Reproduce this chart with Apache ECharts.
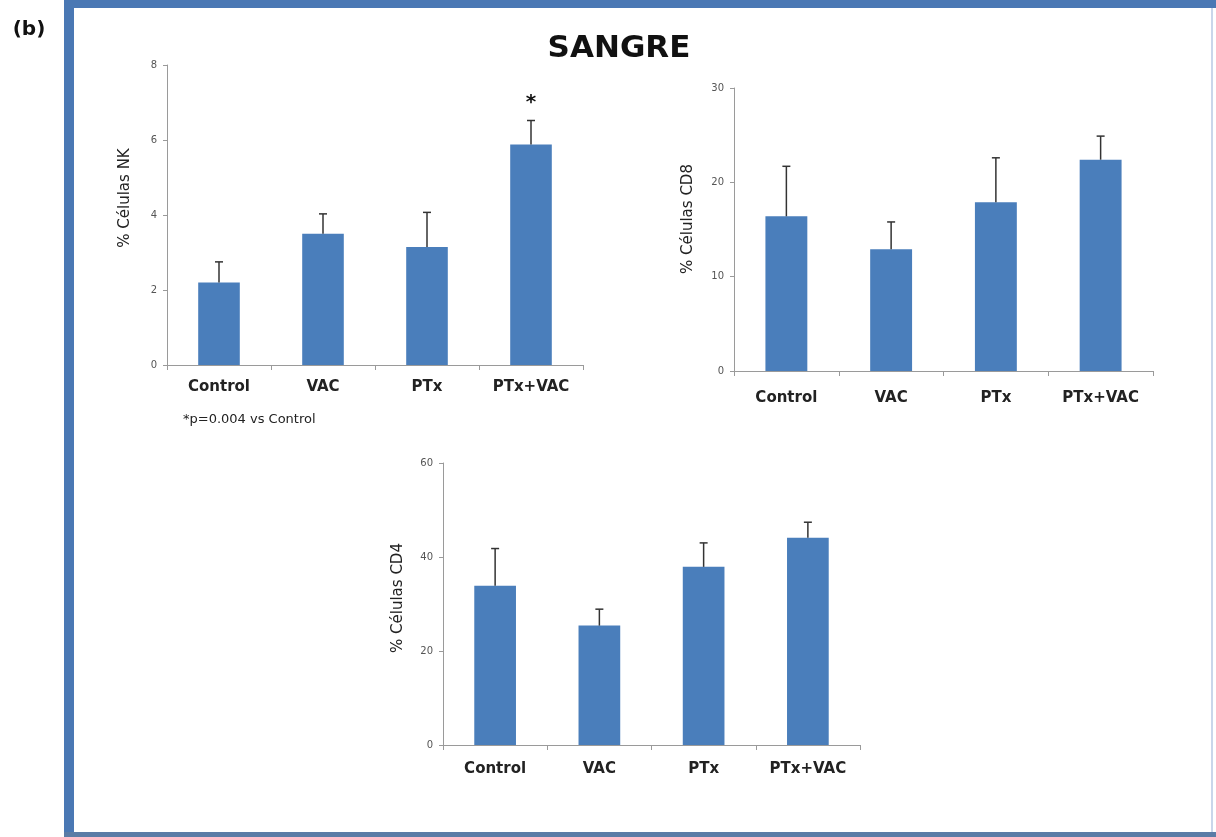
<!DOCTYPE html>
<html>
<head>
<meta charset="utf-8">
<title>SANGRE</title>
<script src="https://cdn.jsdelivr.net/npm/echarts@6/dist/echarts.min.js"></script>
<style>
  html, body { margin: 0; padding: 0; background: #ffffff; }
  #chart { width: 1216px; height: 837px; }
</style>
</head>
<body>
<div id="chart"></div>
<script>
// Groups shown in every panel
const categories = ['Control', 'VAC', 'PTx', 'PTx+VAC'];

// % NK cells in blood: mean and upper error
const nkMean = [2.2, 3.5, 3.15, 5.88];
const nkErr = [0.55, 0.53, 0.92, 0.64];
const nkMarks = ['', '', '', '*'];
const nkTicks = [0, 2, 4, 6, 8];

// % CD8 cells in blood
const cd8Mean = [16.4, 12.9, 17.9, 22.4];
const cd8Err = [5.3, 2.9, 4.7, 2.5];
const cd8Marks = ['', '', '', ''];
const cd8Ticks = [0, 10, 20, 30];

// % CD4 cells in blood
const cd4Mean = [33.9, 25.4, 37.9, 44.1];
const cd4Err = [7.9, 3.5, 5.1, 3.3];
const cd4Marks = ['', '', '', ''];
const cd4Ticks = [0, 20, 40, 60];

const FONT = '"DejaVu Sans", sans-serif';
const BAR = '#4a7ebb';
const FRAME = '#4a78b4';
const AXIS = '#9a9a9a';

// Panel layout: plotting area box, axis name, category label gap
const panels = [
  { mean: nkMean, err: nkErr, marks: nkMarks, ticks: nkTicks, name: '% Células NK',
    grid: { left: 167, top: 65, width: 416, height: 300 }, nameAt: [125, 198], labelMargin: 15 },
  { mean: cd8Mean, err: cd8Err, marks: cd8Marks, ticks: cd8Ticks, name: '% Células CD8',
    grid: { left: 734, top: 88, width: 419, height: 283 }, nameAt: [688, 219], labelMargin: 20 },
  { mean: cd4Mean, err: cd4Err, marks: cd4Marks, ticks: cd4Ticks, name: '% Células CD4',
    grid: { left: 443, top: 463, width: 417, height: 282 }, nameAt: [398, 598], labelMargin: 17 }
];

const grid = [], xAxis = [], yAxis = [], series = [], graphic = [];

panels.forEach((p, i) => {
  grid.push(Object.assign({ containLabel: false }, p.grid));
  xAxis.push({
    type: 'category', gridIndex: i, data: categories,
    axisLine: { lineStyle: { color: AXIS, width: 1 } },
    axisTick: { show: true, alignWithLabel: false, length: 5, lineStyle: { color: AXIS } },
    axisLabel: { color: '#222', fontFamily: FONT, fontSize: 15, fontWeight: 'bold', margin: p.labelMargin }
  });
  const step = p.ticks[1] - p.ticks[0];
  yAxis.push({
    type: 'value', gridIndex: i,
    min: p.ticks[0], max: p.ticks[p.ticks.length - 1], interval: step,
    axisLine: { show: true, lineStyle: { color: AXIS, width: 1 } },
    axisTick: { show: true, length: 4, lineStyle: { color: AXIS } },
    splitLine: { show: false },
    axisLabel: { color: '#555', fontFamily: FONT, fontSize: 10, margin: 10 }
  });
  series.push({
    type: 'bar', xAxisIndex: i, yAxisIndex: i, data: p.mean,
    barWidth: '40%', itemStyle: { color: BAR }, silent: true, z: 2
  });
  // Error bars (upper whisker with cap) and significance marks
  series.push({
    type: 'custom', xAxisIndex: i, yAxisIndex: i, z: 3, silent: true,
    data: p.mean.map((m, k) => [k, m, p.err[k]]),
    renderItem: function (params, api) {
      const k = api.value(0), m = api.value(1), e = api.value(2);
      const base = api.coord([k, m]);
      const top = api.coord([k, m + e]);
      const children = [
        { type: 'line', shape: { x1: base[0], y1: base[1], x2: top[0], y2: top[1] },
          style: { stroke: '#333333', lineWidth: 1.5 } },
        { type: 'line', shape: { x1: top[0] - 4, y1: top[1], x2: top[0] + 4, y2: top[1] },
          style: { stroke: '#333333', lineWidth: 1.5 } }
      ];
      const mark = p.marks[k];
      if (mark) {
        children.push({ type: 'text', x: top[0], y: top[1] - 18,
          style: { text: mark, fill: '#111', font: 'bold 20px ' + FONT, align: 'center', verticalAlign: 'middle' } });
      }
      return { type: 'group', children: children };
    }
  });
  graphic.push({
    type: 'text', x: p.nameAt[0], y: p.nameAt[1], rotation: Math.PI / 2,
    style: { text: p.name, fill: '#222', font: '15px ' + FONT, align: 'center', verticalAlign: 'middle' }
  });
});

// Blue frame around the figure
graphic.push(
  { type: 'rect', shape: { x: 64, y: 0, width: 1152, height: 8 }, style: { fill: FRAME } },
  { type: 'rect', shape: { x: 64, y: 0, width: 10, height: 837 }, style: { fill: FRAME } },
  { type: 'rect', shape: { x: 64, y: 832, width: 1152, height: 5 }, style: { fill: '#5a7ca6' } },
  { type: 'rect', shape: { x: 1211, y: 8, width: 2, height: 824 }, style: { fill: '#c9d6ea' } },
  { type: 'text', x: 29, y: 30,
    style: { text: '(b)', fill: '#111', font: 'bold 20px ' + FONT, align: 'center', verticalAlign: 'middle' } },
  { type: 'text', x: 619, y: 49,
    style: { text: 'SANGRE', fill: '#111', font: 'bold 31px ' + FONT, align: 'center', verticalAlign: 'middle' } },
  { type: 'text', x: 183, y: 420,
    style: { text: '*p=0.004 vs Control', fill: '#222', font: '13px ' + FONT, align: 'left', verticalAlign: 'middle' } }
);

const chart = echarts.init(document.getElementById('chart'), null, { renderer: 'canvas' });
chart.setOption({
  backgroundColor: '#ffffff',
  animation: false,
  grid: grid, xAxis: xAxis, yAxis: yAxis, series: series, graphic: graphic
});
</script>
</body>
</html>
